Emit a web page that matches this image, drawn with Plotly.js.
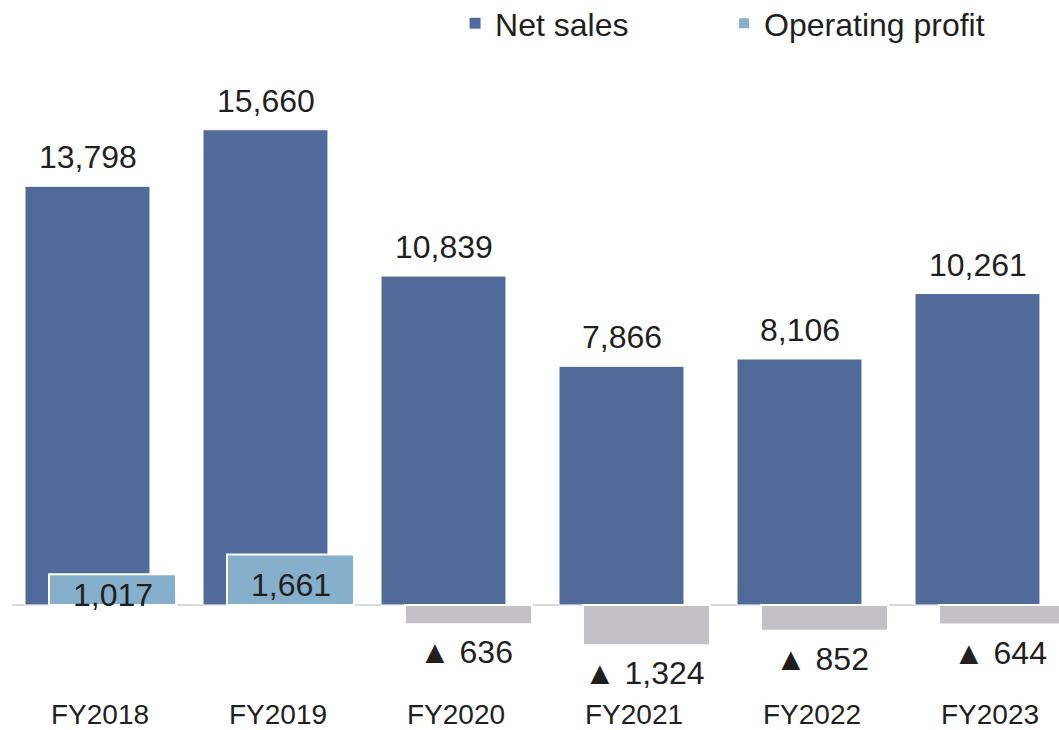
<!DOCTYPE html>
<html>
<head>
<meta charset="utf-8">
<script src="https://cdn.plot.ly/plotly-3.0.1.min.js"></script>
<style>
  html, body { margin: 0; padding: 0; background: #ffffff; }
  #chart { width: 1059px; height: 730px; }
</style>
</head>
<body>
<div id="chart"></div>
<script>
// ---- data ----
const categories = ['FY2018', 'FY2019', 'FY2020', 'FY2021', 'FY2022', 'FY2023'];
const netSales = [13798, 15660, 10839, 7866, 8106, 10261];
const operatingProfit = [1017, 1661, -636, -1324, -852, -644];

// ---- styling ----
const FONT = 'Liberation Sans, Arial, Helvetica, sans-serif';
const TEXT_COLOR = '#1f1f1f';
const NET_COLOR = '#506B99';
const OP_POS_COLOR = '#85AFCA';
const OP_NEG_COLOR = '#C3C1C6';

const fmt = v => Math.abs(v).toLocaleString('en-US');
const netLabels = netSales.map(v => fmt(v));
const opLabels = operatingProfit.map(v => (v < 0 ? '\u25B2 ' : '') + fmt(v));
const opColors = operatingProfit.map(v => v < 0 ? OP_NEG_COLOR : OP_POS_COLOR);

const netTrace = {
  type: 'bar',
  name: 'Net sales',
  x: categories,
  y: netSales,
  width: 0.702,
  offset: -0.4213,
  marker: { color: NET_COLOR, line: { color: '#ffffff', width: 1 } },
  hoverinfo: 'x+y'
};

const opTrace = {
  type: 'bar',
  name: 'Operating profit',
  x: categories,
  y: operatingProfit,
  width: 0.7135,
  offset: -0.2865,
  marker: { color: opColors, line: { color: '#ffffff', width: 2 } },
  hoverinfo: 'x+y'
};

const annotations = [];
categories.forEach((c, i) => {
  annotations.push({
    x: c, y: netSales[i], xref: 'x', yref: 'y',
    xshift: -12.5, yshift: 9, yanchor: 'bottom',
    text: netLabels[i], showarrow: false,
    font: { family: FONT, size: 32, color: TEXT_COLOR }
  });
  const v = operatingProfit[i];
  if (v >= 0) {
    annotations.push({
      x: c, y: v / 2, xref: 'x', yref: 'y',
      xshift: 12.5, yshift: -5, yanchor: 'middle',
      text: opLabels[i], showarrow: false,
      font: { family: FONT, size: 32, color: TEXT_COLOR }
    });
  } else {
    annotations.push({
      x: c, y: v, xref: 'x', yref: 'y',
      xshift: 10, yshift: -8, yanchor: 'top',
      text: opLabels[i], showarrow: false,
      font: { family: FONT, size: 32, color: TEXT_COLOR }
    });
  }
});

const layout = {
  width: 1059,
  height: 730,
  margin: { l: 0, r: 0, t: 0, b: 40, autoexpand: false },
  paper_bgcolor: '#ffffff',
  plot_bgcolor: '#ffffff',
  barmode: 'overlay',
  showlegend: true,
  legend: {
    orientation: 'h',
    x: 0.4297, xanchor: 'left',
    y: 1.006, yanchor: 'top',
    font: { family: FONT, size: 32, color: TEXT_COLOR },
    itemwidth: 30,
    bgcolor: 'rgba(0,0,0,0)',
    traceorder: 'normal',
    entrywidth: 224
  },
  xaxis: {
    type: 'category',
    range: [-0.5618, 5.3876],
    showgrid: false,
    zeroline: false,
    showline: false,
    ticks: '',
    tickfont: { family: FONT, size: 28, color: TEXT_COLOR },
    ticklabelstandoff: 5,
    fixedrange: true
  },
  yaxis: {
    range: [-2801, 19935],
    showgrid: false,
    zeroline: false,
    showline: false,
    showticklabels: false,
    ticks: '',
    fixedrange: true
  },
  shapes: [{
    type: 'line', xref: 'paper', yref: 'y',
    x0: 12 / 1059, x1: 1, y0: 0, y1: 0,
    line: { color: '#D9D9D9', width: 2 },
    layer: 'below'
  }],
  annotations: annotations
};

Plotly.newPlot('chart', [netTrace, opTrace], layout, { displayModeBar: false, staticPlot: true });
</script>
</body>
</html>
